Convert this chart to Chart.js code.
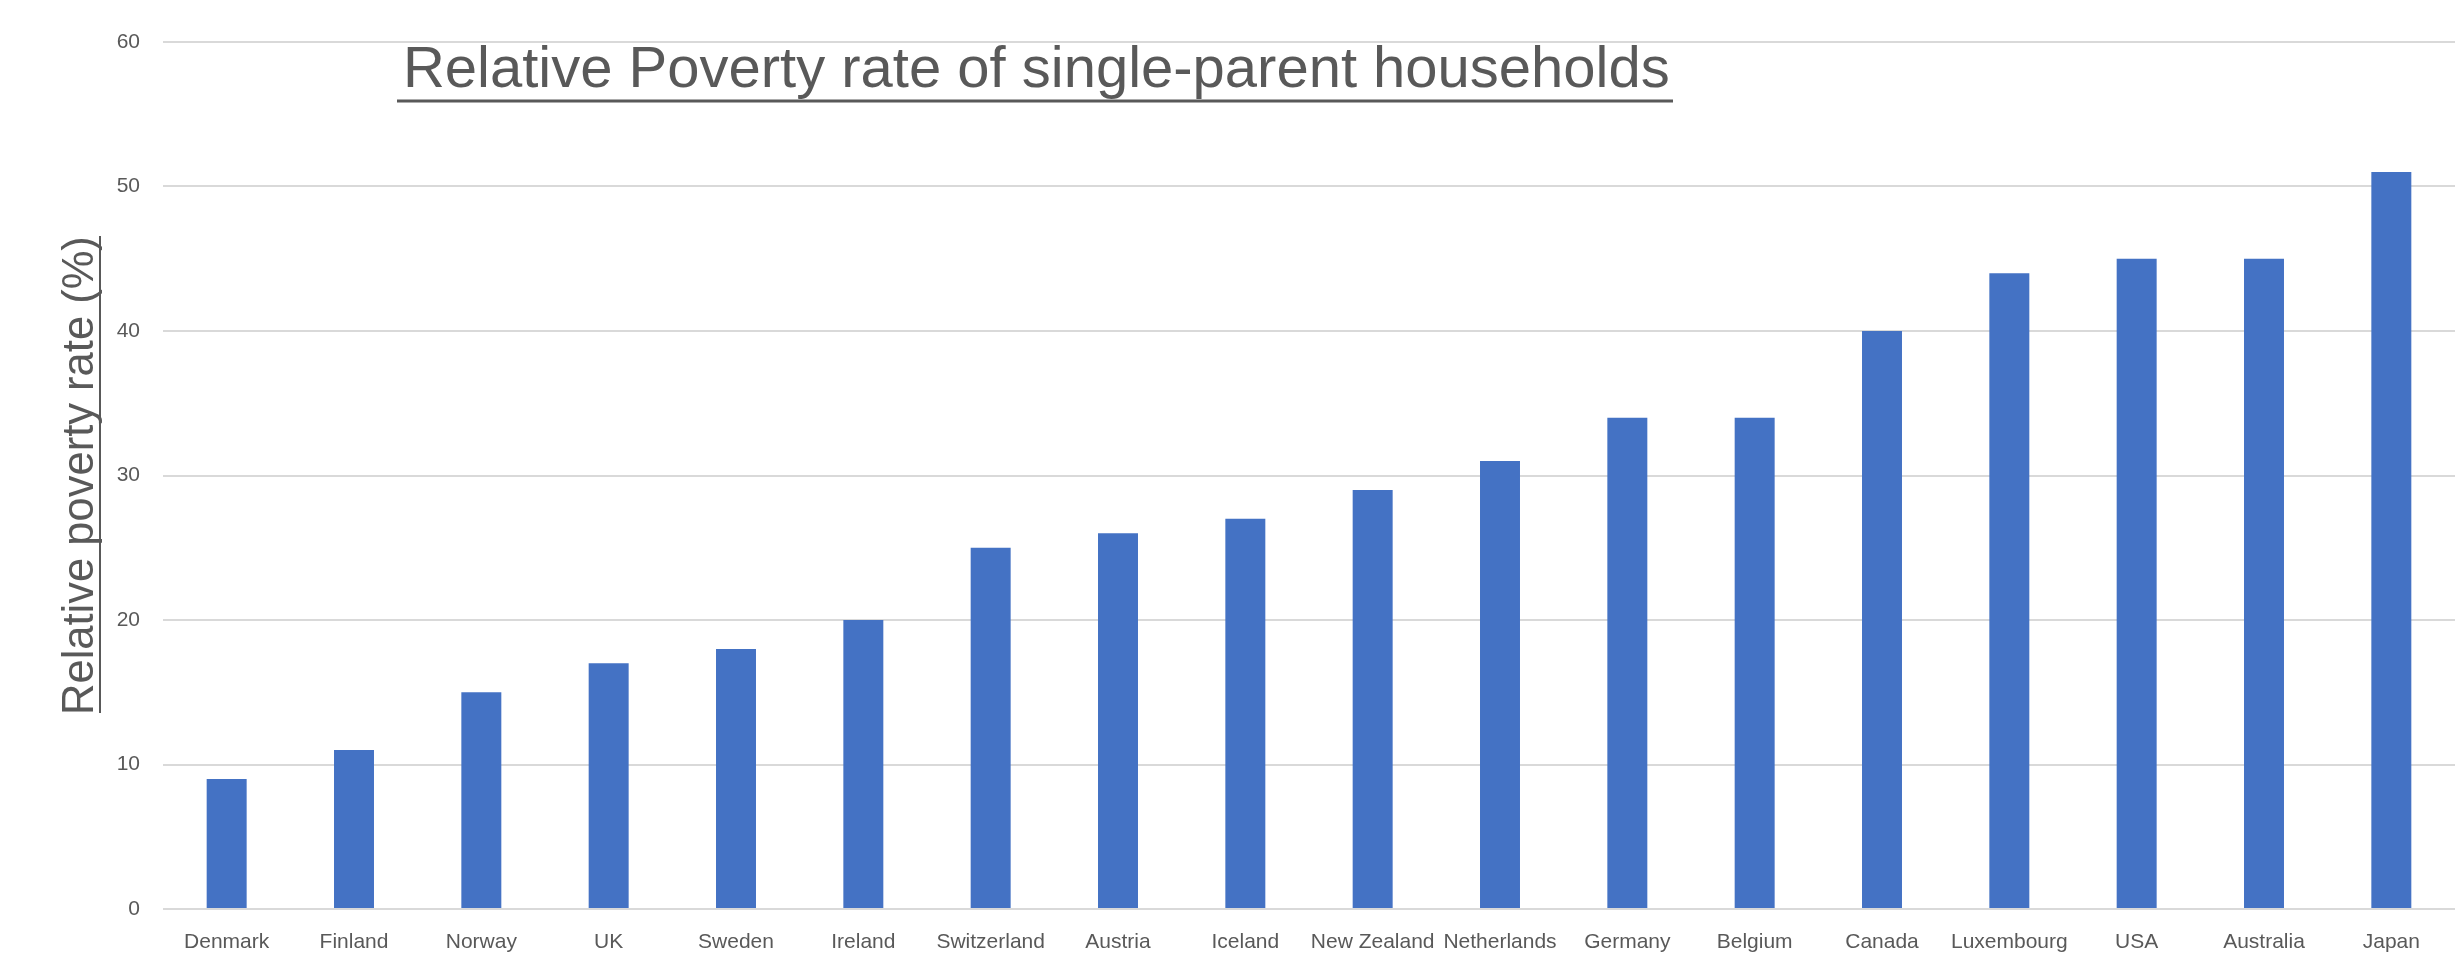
<!DOCTYPE html>
<html><head><meta charset="utf-8">
<script src="https://cdn.jsdelivr.net/npm/chart.js@4/dist/chart.umd.min.js"></script>
<style>html,body{margin:0;padding:0;background:#fff;overflow:hidden}#wrap{width:2456px;height:964px}</style>
</head><body><div id="wrap"><canvas id="c" width="2456" height="964"></canvas></div>
<script>
const categories = ['Denmark','Finland','Norway','UK','Sweden','Ireland','Switzerland','Austria','Iceland','New Zealand','Netherlands','Germany','Belgium','Canada','Luxembourg','USA','Australia','Japan'];
const povertyRates = [9,11,15,17,18,20,25,26,27,29,31,34,34,40,44,45,45,51];
const yMin = 0;
const yMax = 60;
const yStep = 10;
const chartTitle = 'Relative Poverty rate of single-parent households';
const yAxisTitle = 'Relative poverty rate (%)';

const TEXT = '#595959';
const FONT = "'Liberation Sans', Arial, sans-serif";

function fitFont(ctx, text, targetW, baseSize) {
  ctx.font = baseSize + 'px ' + FONT;
  const w = ctx.measureText(text).width;
  const size = baseSize * targetW / w;
  ctx.font = size + 'px ' + FONT;
  return size;
}

const decorPlugin = {
  id: 'decor',
  afterDraw(chart) {
    const ctx = chart.ctx;
    ctx.save();
    ctx.fillStyle = TEXT;
    ctx.textBaseline = 'alphabetic';
    ctx.textAlign = 'left';
    // Title
    fitFont(ctx, chartTitle, 1267, 48);
    ctx.fillText(chartTitle, 403, 87);
    ctx.fillRect(397, 99.5, 1673 - 397, 3);
    // Y axis title
    fitFont(ctx, yAxisTitle, 479, 40);
    ctx.save();
    ctx.translate(93, 715);
    ctx.rotate(-Math.PI / 2);
    ctx.fillText(yAxisTitle, 0, 0);
    ctx.restore();
    ctx.fillRect(99, 236, 2, 713 - 236);
    ctx.restore();
  }
};

new Chart(document.getElementById('c'), {
  type: 'bar',
  data: {
    labels: categories,
    datasets: [{
      data: povertyRates,
      backgroundColor: '#4472C4',
      borderWidth: 0,
      categoryPercentage: 1,
      barPercentage: 0.314
    }]
  },
  options: {
    responsive: false,
    devicePixelRatio: 1,
    animation: false,
    layout: { padding: { top: 42, right: 1, left: 0, bottom: 0 } },
    plugins: { legend: { display: false }, title: { display: false }, tooltip: { enabled: false } },
    scales: {
      x: {
        grid: { display: false, drawTicks: false },
        border: { display: false },
        ticks: { color: TEXT, font: { family: FONT, size: 21 }, padding: 21, maxRotation: 0, autoSkip: false },
        afterFit(s) { s.height = 55; }
      },
      y: {
        min: yMin, max: yMax,
        grid: { color: '#D9D9D9', lineWidth: 2, drawTicks: false },
        border: { display: false },
        ticks: { stepSize: yStep, color: TEXT, font: { family: FONT, size: 21 }, padding: 23 },
        afterFit(s) { s.width = 163; }
      }
    }
  },
  plugins: [decorPlugin]
});
</script>
</body></html>
